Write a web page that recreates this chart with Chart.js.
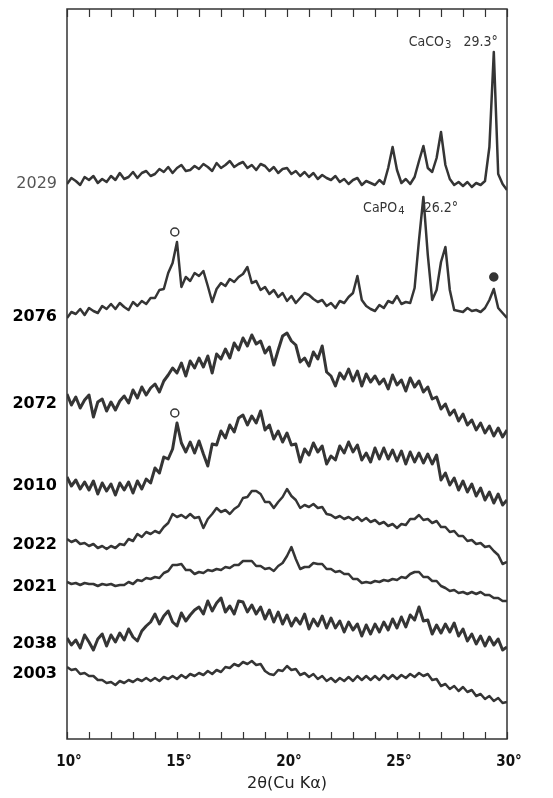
<!DOCTYPE html>
<html>
<head>
<meta charset="utf-8">
<script src="https://cdn.jsdelivr.net/npm/chart.js@4.4.0/dist/chart.umd.min.js"></script>
<style>
  html, body { margin: 0; padding: 0; background: #fff; }
  canvas { display: block; }
</style>
</head>
<body>
<canvas id="xrdChart" width="553" height="798"></canvas>
<script>
// --- DATA ---

// 2θ sampling grid, 10° .. 30° every 0.2°
const twoTheta = [];
for (let i = 0; i <= 100; i++) twoTheta.push(Math.round((10 + i * 0.2) * 10) / 10);

const axisTicks = [10, 15, 20, 25, 30];

// sample names, top to bottom
const samples = ['2029', '2076', '2072', '2010', '2022', '2021', '2038', '2003'];

// stacked intensities (arb. units)
const s2029 = [
  555,561,558,554,562,559,563,556,560,557,
  563,559,566,560,562,567,561,566,568,563,
  565,570,567,572,566,571,574,568,569,573,
  570,575,572,568,576,571,574,578,572,575,
  577,571,574,569,575,573,568,572,566,570,
  571,565,568,563,567,562,566,560,564,561,
  559,563,557,560,555,559,561,554,558,556,
  554,559,555,571,592,569,556,560,555,562,
  578,593,571,567,581,607,574,560,554,557,
  553,557,552,556,554,558,592,687,565,555,
  549
];
const s2076 = [
  421,427,425,430,424,431,428,426,433,430,
  435,430,436,432,429,437,433,438,435,441,
  441,449,450,466,476,497,452,462,458,466,
  463,468,453,437,450,456,453,460,457,462,
  465,472,456,458,449,452,445,449,442,446,
  438,443,436,441,446,444,440,437,439,433,
  436,431,438,436,442,446,463,439,433,430,
  428,434,431,438,436,443,435,437,436,451,
  499,542,484,439,449,477,492,449,429,428,
  427,431,428,429,427,431,439,450,431,426,
  421
];
const s2072 = [
  345,334,342,331,339,344,322,337,340,328,
  337,329,338,343,336,349,341,352,344,351,
  355,347,358,364,371,366,376,363,378,371,
  381,372,383,366,385,380,390,381,396,389,
  401,393,404,395,398,386,392,374,389,403,
  406,398,394,377,381,373,387,380,393,367,
  363,353,366,360,370,358,368,353,365,357,
  363,355,360,350,364,354,359,348,361,352,
  358,347,352,340,342,330,335,324,329,318,
  325,314,319,309,316,306,313,303,311,302,
  309
];
const s2010 = [
  262,253,259,250,257,249,258,245,256,248,
  255,244,256,249,257,246,258,250,260,256,
  271,266,282,280,290,316,296,287,297,286,
  298,285,273,295,294,308,301,314,307,321,
  324,314,323,316,328,309,314,300,308,297,
  306,294,295,277,290,284,296,287,293,275,
  283,279,293,286,297,287,294,279,286,277,
  291,280,291,280,289,278,288,275,287,277,
  286,276,285,275,284,259,266,254,261,249,
  258,247,255,243,251,239,247,236,245,234,
  239
];
const s2022 = [
  200,197,199,195,196,193,195,191,193,190,
  193,191,195,194,200,198,205,202,207,205,
  208,206,212,216,225,222,224,221,225,221,
  222,211,220,225,231,227,229,225,230,233,
  241,242,248,248,245,237,237,231,237,242,
  250,243,239,231,234,232,235,231,232,225,
  224,221,223,220,222,219,222,218,221,217,
  219,215,217,213,215,211,215,214,220,220,
  224,219,220,216,218,212,212,207,208,203,
  203,198,199,195,196,192,193,188,184,175,
  177
];
const s2021 = [
  157,155,156,154,156,155,155,153,155,154,
  155,153,154,154,157,155,159,158,161,160,
  162,161,166,168,174,174,175,169,169,165,
  167,166,169,168,170,169,172,171,174,174,
  178,178,178,173,173,170,171,168,173,176,
  183,192,180,170,172,172,176,175,175,170,
  170,167,168,165,165,160,160,156,157,156,
  158,157,159,158,160,159,162,161,165,167,
  167,162,162,158,158,153,151,148,149,146,
  147,145,147,145,147,144,144,141,141,138,
  138
];
const s2038 = [
  101,94,99,91,104,97,89,100,105,93,
  104,97,106,99,110,102,98,108,113,117,
  125,115,123,128,117,113,126,118,124,129,
  132,125,138,128,136,141,127,133,125,138,
  137,127,134,125,132,120,129,117,127,115,
  124,113,121,115,125,110,120,113,123,111,
  121,111,118,107,117,109,115,103,114,105,
  115,107,117,109,120,111,122,112,124,119,
  132,118,119,105,114,106,115,107,116,103,
  110,98,105,95,103,93,102,94,100,89,
  92
];
const s2003 = [
  72,69,70,65,66,63,63,59,59,56,
  57,54,58,56,59,57,60,58,61,58,
  61,58,62,60,63,60,64,61,65,63,
  66,64,68,65,69,67,72,71,75,73,
  77,75,78,74,75,68,65,64,69,68,
  73,69,70,64,66,62,65,60,63,58,
  61,57,61,58,62,58,63,59,63,59,
  63,59,64,60,64,60,64,61,65,62,
  66,63,65,59,60,53,55,50,53,48,
  52,47,49,43,45,40,43,38,41,36,
  37
];
const series = [s2029, s2076, s2072, s2010, s2022, s2021, s2038, s2003];

// peak markers: ○ = open, ● = filled
const markTheta = [14.9, 29.4, 14.9];
const markLevel = [507, 462, 326];
const markFilled = [false, true, false];

// peak notes
const noteText = ['CaCO|3', '29.3°', 'CaPO|4', '26.2°'];
const noteTheta = [26.5, 28.8, 24.4, 27.0];
const noteLevel = [697, 697, 531, 531];

// --- CHART ---

const INK = '#353535';
const lineWidths = [2.5, 2.5, 3, 3, 2.5, 2.5, 3, 2.5];

const datasets = series.map((vals, k) => ({
    label: samples[k],
    data: vals.map((y, i) => ({ x: twoTheta[i], y: y })),
    borderColor: INK,
    borderWidth: lineWidths[k],
    borderJoinStyle: 'round',
    pointRadius: 0,
    tension: 0,
    fill: false
}));

datasets.push({
    label: 'markers',
    data: markTheta.map((x, i) => ({ x: x, y: markLevel[i] })),
    showLine: false,
    pointRadius: 4,
    pointBorderWidth: 1.5,
    pointBorderColor: INK,
    pointBackgroundColor: markFilled.map(f => f ? INK : '#fff')
});

// frame, inward ticks, tick labels, axis title, sample names, peak notes
const decorations = {
    id: 'decorations',
    afterDraw(chart) {
        const { ctx, chartArea: a, scales: { x, y } } = chart;
        ctx.save();
        ctx.strokeStyle = '#333';
        ctx.lineWidth = 1.5;
        ctx.strokeRect(a.left, a.top, a.right - a.left, a.bottom - a.top);

        ctx.lineWidth = 1.2;
        for (let t = 10; t <= 30; t++) {
            const px = Math.round(x.getPixelForValue(t)) + 0.5;
            ctx.beginPath();
            ctx.moveTo(px, a.bottom); ctx.lineTo(px, a.bottom - 7);
            ctx.moveTo(px, a.top); ctx.lineTo(px, a.top + 8);
            ctx.stroke();
        }

        ctx.fillStyle = '#111';
        ctx.textAlign = 'center';
        ctx.textBaseline = 'middle';
        ctx.font = 'bold 15px "DejaVu Sans Condensed", "DejaVu Sans", sans-serif';
        axisTicks.forEach(t => ctx.fillText(t + '°', x.getPixelForValue(t) + 2, a.bottom + 23));

        ctx.fillStyle = '#222';
        ctx.font = '16px "DejaVu Sans", sans-serif';
        ctx.fillText('2θ(Cu Kα)', (a.left + a.right) / 2, a.bottom + 45);

        // sample names next to each trace start
        ctx.textAlign = 'right';
        series.forEach((vals, k) => {
            const lvl = vals.slice(0, 5).reduce((s, v) => s + v, 0) / 5;
            const py = y.getPixelForValue(lvl) + 3;
            if (k === 0) {
                ctx.fillStyle = '#555';
                ctx.font = '16px "DejaVu Sans", sans-serif';
            } else {
                ctx.fillStyle = '#000';
                ctx.font = 'bold 16px "DejaVu Sans", sans-serif';
            }
            ctx.fillText(samples[k], a.left - 10, py);
        });

        // peak notes, "|" marks a subscript
        ctx.fillStyle = INK;
        noteText.forEach((txt, i) => {
            const [main, sub] = txt.split('|');
            const cx = x.getPixelForValue(noteTheta[i]);
            const cy = y.getPixelForValue(noteLevel[i]);
            ctx.font = '14px "DejaVu Sans Condensed", "DejaVu Sans", sans-serif';
            const w1 = ctx.measureText(main).width;
            let w2 = 0;
            if (sub) { ctx.font = '10px "DejaVu Sans", sans-serif'; w2 = ctx.measureText(sub).width + 1; }
            const left = cx - (w1 + w2) / 2;
            ctx.textAlign = 'left';
            ctx.font = '14px "DejaVu Sans Condensed", "DejaVu Sans", sans-serif';
            ctx.fillText(main, left, cy);
            if (sub) {
                ctx.font = '10px "DejaVu Sans", sans-serif';
                ctx.fillText(sub, left + w1 + 1, cy + 3);
            }
        });
        ctx.restore();
    }
};

new Chart(document.getElementById('xrdChart'), {
    type: 'line',
    data: { datasets: datasets },
    options: {
        responsive: false,
        animation: false,
        layout: { padding: { left: 67, right: 46, top: 9, bottom: 59 } },
        plugins: { legend: { display: false }, tooltip: { enabled: false } },
        scales: {
            x: { type: 'linear', min: 10, max: 30, display: false },
            y: { type: 'linear', min: 0, max: 730, display: false }
        }
    },
    plugins: [decorations]
});
</script>
</body>
</html>
